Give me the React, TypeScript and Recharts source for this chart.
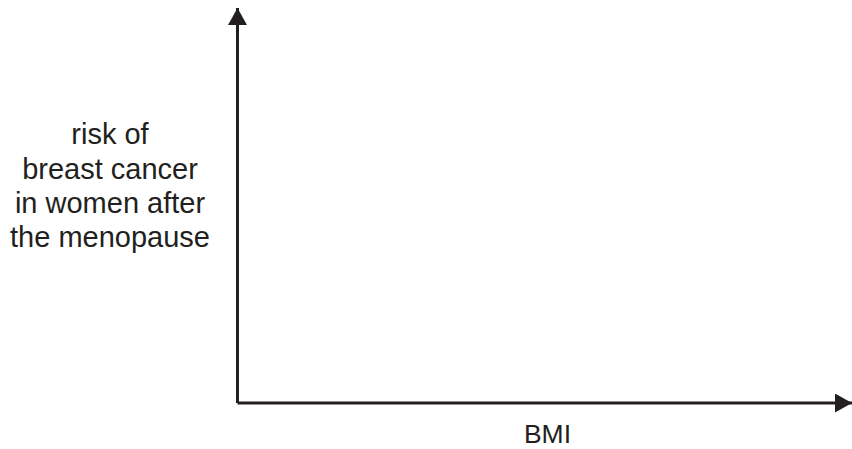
import { LineChart, XAxis, YAxis, Line, Label } from "recharts";

const yLabelLines = ["risk of", "breast cancer", "in women after", "the menopause"];
const yLabelBaselines = [144, 179, 213, 247];
const xLabel = "BMI";
const bmiValues = [0, 10];
const riskValues = [0, 10];

const INK = "#231f20";
const FONT = "'Liberation Sans', Arial, sans-serif";

const data = bmiValues.map((b, i) => ({ bmi: b, risk: riskValues[i] }));

export default function App() {
  return (
    <div style={{ position: "absolute", left: 0, top: 0 }}>
      <LineChart width={852} height={449} data={data} margin={{ top: 8, right: 0, bottom: 0, left: 0 }}>
        <defs>
          <marker id="arrowHead" viewBox="0 0 17 19" refX="17" refY="9.5"
            markerWidth="17" markerHeight="19" markerUnits="userSpaceOnUse" orient="auto-start-reverse">
            <path d="M0,0 L17,9.5 L0,19 Z" fill={INK} />
          </marker>
        </defs>
        <XAxis dataKey="bmi" type="number" domain={[0, 10]} height={46} tick={false} tickLine={false}
          axisLine={{ stroke: INK, strokeWidth: 3, markerEnd: "url(#arrowHead)" }}>
          <Label content={() => (
            <text x={547.5} y={443} textAnchor="middle" fontFamily={FONT} fontSize={26.5} fill={INK}>{xLabel}</text>
          )} />
        </XAxis>
        <YAxis type="number" domain={[0, 10]} width={237.5} tick={false} tickLine={false}
          axisLine={{ stroke: INK, strokeWidth: 3, markerStart: "url(#arrowHead)" }}>
          <Label content={() => (
            <text textAnchor="middle" fontFamily={FONT} fontSize={29} fill={INK}>
              {yLabelLines.map((l, i) => (
                <tspan key={l} x={110} y={yLabelBaselines[i]}>{l}</tspan>
              ))}
            </text>
          )} />
        </YAxis>
        <Line dataKey="risk" stroke="none" dot={false} isAnimationActive={false} />
      </LineChart>
    </div>
  );
}
